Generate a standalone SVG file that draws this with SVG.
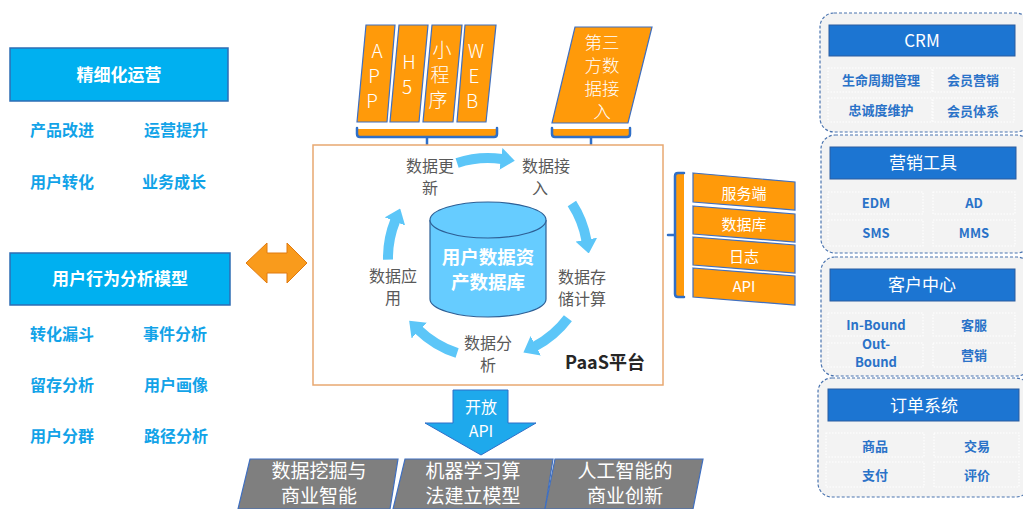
<svg xmlns="http://www.w3.org/2000/svg" width="1023" height="509" viewBox="0 0 1023 509">
<style>
.cjk{font-family:"Noto Sans CJK SC","Liberation Sans",sans-serif}
.hdrL{fill:#00B0F0;stroke:#2E6DB4;stroke-width:1.5}
.hdrLt{fill:#fff;font-size:17px;font-weight:bold;text-anchor:middle}
.itemL{fill:#12A3E8;font-size:16px;font-weight:bold;text-anchor:middle}
.org{fill:#FF9A0A;stroke:#3F6FC0;stroke-width:1.2}
.wt{fill:#fff;text-anchor:middle}
.top{font-size:19px;font-weight:300}
.tp{font-size:17.5px;font-weight:300}
.cyc{fill:#595959;font-size:16px;text-anchor:middle}
.ring{fill:none;stroke:#5CC6F8;stroke-width:10;marker-end:url(#ah)}
.brk{fill:none;stroke:#2F6FC8;stroke-width:2.5;stroke-linecap:round}
.grp{fill:#F3F3F3;stroke:#4A74B0;stroke-width:1.2;stroke-dasharray:3 2}
.hdrR{fill:#1C75D2;stroke:#2A5D9F;stroke-width:1}
.hdrRt{fill:#fff;font-size:17px;text-anchor:middle}
.cell{fill:#F3F3F3;stroke:#fff;stroke-width:1.2;stroke-dasharray:1.5 1.5}
.ct{fill:#2A72C8;font-size:13px;font-weight:bold;text-anchor:middle}
.gray{fill:#7F7F7F;stroke:#3F6FC0;stroke-width:1.2}
.bt{fill:#fff;font-size:19px;text-anchor:middle}
</style>
<defs>
<marker id="ah" viewBox="0 0 14 22" refX="1" refY="11" markerWidth="14" markerHeight="22" markerUnits="userSpaceOnUse" orient="auto">
<path d="M0,0 L14,11 L0,22 Z" fill="#5CC6F8"/>
</marker>
</defs>
<rect width="1023" height="509" fill="#fff"/>

<g id="left-ops" class="cjk">
<rect class="hdrL" x="10" y="48" width="218" height="53"/>
<text class="hdrLt" x="119" y="81">精细化运营</text>
<text class="itemL" x="62" y="136">产品改进</text>
<text class="itemL" x="176" y="136">运营提升</text>
<text class="itemL" x="62" y="188">用户转化</text>
<text class="itemL" x="174" y="188">业务成长</text>
</g>

<g id="left-model" class="cjk">
<rect class="hdrL" x="10" y="253" width="220" height="52"/>
<text class="hdrLt" x="120" y="285">用户行为分析模型</text>
<text class="itemL" x="62" y="340">转化漏斗</text>
<text class="itemL" x="175" y="340">事件分析</text>
<text class="itemL" x="62" y="391">留存分析</text>
<text class="itemL" x="176" y="391">用户画像</text>
<text class="itemL" x="62" y="442">用户分群</text>
<text class="itemL" x="176" y="442">路径分析</text>
</g>

<g id="double-arrow">
<polygon points="246,263 267,243 267,253 287,253 287,243 307,263 287,283 287,273 267,273 267,283" fill="#F99B1C" stroke="#E07A10" stroke-width="1"/>
</g>

<g id="top-sources" class="cjk">
<polygon class="org" points="366,25 395,25 387,122 357,122"/>
<polygon class="org" points="399,25 428,25 419,122 390,122"/>
<polygon class="org" points="432,25 462,25 453,122 423,122"/>
<polygon class="org" points="465,25 496,25 486,122 457,122"/>
<text class="wt top"><tspan x="377" y="58">A</tspan><tspan x="374" y="83">P</tspan><tspan x="372" y="108">P</tspan></text>
<text class="wt top"><tspan x="409" y="69">H</tspan><tspan x="407" y="94">5</tspan></text>
<text class="wt top"><tspan x="442" y="57">小</tspan><tspan x="440" y="82">程</tspan><tspan x="438" y="107">序</tspan></text>
<text class="wt top"><tspan x="476" y="58">W</tspan><tspan x="474" y="83">E</tspan><tspan x="472" y="108">B</tspan></text>
<rect x="357" y="129" width="140" height="8" fill="#FF9A0A"/>
<path class="brk" d="M357,128 V134 Q357,137 360,137 H494 Q497,137 497,134 V128 M427,137 V145"/>
</g>

<g id="third-party" class="cjk">
<polygon class="org" points="575,27 652,27 628,123 552,123"/>
<text class="wt tp"><tspan x="602" y="49">第三</tspan><tspan x="602" y="72">方数</tspan><tspan x="602" y="95">据接</tspan><tspan x="602" y="118">入</tspan></text>
<rect x="552" y="129" width="78" height="8" fill="#FF9A0A"/>
<path class="brk" d="M552,128 V134 Q552,137 555,137 H627 Q630,137 630,134 V128 M591,137 V145"/>
</g>

<g id="paas" class="cjk">
<rect x="313" y="145" width="350" height="240" fill="#fff" stroke="#E8A870" stroke-width="1.5"/>
<text x="605" y="369" font-size="18" font-weight="bold" fill="#262626" text-anchor="middle">PaaS平台</text>
</g>

<g id="cylinder" class="cjk">
<path d="M430,220 V299 A58,18 0 0 0 546,299 V220" fill="#66CCFF" stroke="#2E5F95" stroke-width="1.2"/>
<ellipse cx="488" cy="220" rx="58" ry="18" fill="#66CCFF" stroke="#2E5F95" stroke-width="1.2"/>
<text class="wt" font-size="18.5" font-weight="bold"><tspan x="488" y="264">用户数据资</tspan><tspan x="488" y="288.5">产数据库</tspan></text>
</g>

<g id="cycle-labels" class="cjk">
<text class="cyc"><tspan x="430" y="172">数据更</tspan><tspan x="430" y="194">新</tspan></text>
<text class="cyc"><tspan x="546" y="172">数据接</tspan><tspan x="540" y="194">入</tspan></text>
<text class="cyc"><tspan x="582" y="283">数据存</tspan><tspan x="582" y="305">储计算</tspan></text>
<text class="cyc"><tspan x="488" y="349">数据分</tspan><tspan x="488" y="371">析</tspan></text>
<text class="cyc"><tspan x="393" y="282">数据应</tspan><tspan x="393" y="304">用</tspan></text>
</g>

<g id="connectors">
<path class="ring" d="M457.1,162.9 A100,100 0 0 1 501.9,159"/>
<path class="ring" d="M571.9,203.5 A100,100 0 0 1 586.5,240.6"/>
<path class="ring" d="M567.9,318.2 A100,100 0 0 1 534.9,346.3"/>
<path class="ring" d="M457.1,353.1 A100,100 0 0 1 418.5,329.9"/>
<path class="ring" d="M388,259.7 A100,100 0 0 1 395.3,220.5"/>
</g>

<g id="backend" class="cjk">
<rect x="675" y="173" width="9" height="124" fill="#FF9A0A"/>
<path class="brk" d="M684,173 H678 Q675,173 675,176 V294 Q675,297 678,297 H684 M668,235 H675"/>
<polygon class="org" points="693,173 795,182 795,210 693,202"/>
<polygon class="org" points="693,206 795,214 795,242 693,234"/>
<polygon class="org" points="693,237 795,245 795,273 693,265"/>
<polygon class="org" points="693,268 795,276 795,305 693,297"/>
<text class="wt" x="744" y="199" font-size="15">服务端</text>
<text class="wt" x="744" y="230" font-size="15">数据库</text>
<text class="wt" x="744" y="262" font-size="15">日志</text>
<text class="wt" x="744" y="292" font-size="15">API</text>
</g>

<g id="crm" class="cjk">
<rect class="grp" x="820" y="13" width="210" height="119" rx="14"/>
<rect class="hdrR" x="829" y="25" width="186" height="31"/>
<text class="hdrRt" x="922" y="47">CRM</text>
<rect class="cell" x="828" y="68" width="104" height="24"/>
<rect class="cell" x="933" y="68" width="81" height="24"/>
<rect class="cell" x="828" y="98" width="104" height="24"/>
<rect class="cell" x="933" y="98" width="81" height="24"/>
<text class="ct" x="881" y="85">生命周期管理</text>
<text class="ct" x="973" y="85">会员营销</text>
<text class="ct" x="881" y="115">忠诚度维护</text>
<text class="ct" x="973" y="116">会员体系</text>
</g>

<g id="marketing" class="cjk">
<rect class="grp" x="821" y="135" width="210" height="118" rx="14"/>
<rect class="hdrR" x="830" y="147" width="186" height="32"/>
<text class="hdrRt" x="923" y="169">营销工具</text>
<rect class="cell" x="828" y="192" width="95" height="22"/>
<rect class="cell" x="933" y="192" width="82" height="22"/>
<rect class="cell" x="828" y="220" width="95" height="26"/>
<rect class="cell" x="933" y="220" width="82" height="26"/>
<text class="ct" x="876" y="208">EDM</text>
<text class="ct" x="974" y="208">AD</text>
<text class="ct" x="876" y="238">SMS</text>
<text class="ct" x="974" y="238">MMS</text>
</g>

<g id="customer" class="cjk">
<rect class="grp" x="821" y="257" width="210" height="119" rx="14"/>
<rect class="hdrR" x="830" y="269" width="185" height="32"/>
<text class="hdrRt" x="922" y="291">客户中心</text>
<rect class="cell" x="828" y="313" width="95" height="23"/>
<rect class="cell" x="933" y="313" width="82" height="23"/>
<rect class="cell" x="828" y="343" width="95" height="24"/>
<rect class="cell" x="933" y="343" width="82" height="24"/>
<text class="ct" x="876" y="330">In-Bound</text>
<text class="ct" x="974" y="330">客服</text>
<text class="ct" font-size="11.5"><tspan x="876" y="349">Out-</tspan><tspan x="876" y="366.5">Bound</tspan></text>
<text class="ct" x="974" y="360">营销</text>
</g>

<g id="order" class="cjk">
<rect class="grp" x="818" y="378" width="212" height="119" rx="14"/>
<rect class="hdrR" x="828" y="389" width="191" height="32"/>
<text class="hdrRt" x="924" y="412">订单系统</text>
<rect class="cell" x="826" y="433" width="98" height="24"/>
<rect class="cell" x="934" y="433" width="85" height="24"/>
<rect class="cell" x="826" y="462" width="98" height="25"/>
<rect class="cell" x="934" y="462" width="85" height="25"/>
<text class="ct" x="875" y="451">商品</text>
<text class="ct" x="977" y="451">交易</text>
<text class="ct" x="875" y="480">支付</text>
<text class="ct" x="977" y="480">评价</text>
</g>

<g id="open-api" class="cjk">
<polygon points="453,390 508,390 508,423 536,423 481,455 425,423 453,423" fill="#1EA9EC" stroke="#2F6FC8" stroke-width="1"/>
<text class="wt" font-size="16"><tspan x="481" y="413">开放</tspan><tspan x="481" y="437">API</tspan></text>
</g>

<g id="bottom-1" class="cjk">
<polygon class="gray" points="250,459 398,459 390,509 238,509"/>
<text class="bt"><tspan x="319" y="478">数据挖掘与</tspan><tspan x="319" y="503">商业智能</tspan></text>
</g>
<g id="bottom-2" class="cjk">
<polygon class="gray" points="405,459 553,459 545,509 393,509"/>
<text class="bt"><tspan x="473" y="478">机器学习算</tspan><tspan x="473" y="503">法建立模型</tspan></text>
</g>
<g id="bottom-3" class="cjk">
<polygon class="gray" points="555,459 703,459 693,509 545,509"/>
<text class="bt"><tspan x="625" y="478">人工智能的</tspan><tspan x="625" y="503">商业创新</tspan></text>
</g>
</svg>
